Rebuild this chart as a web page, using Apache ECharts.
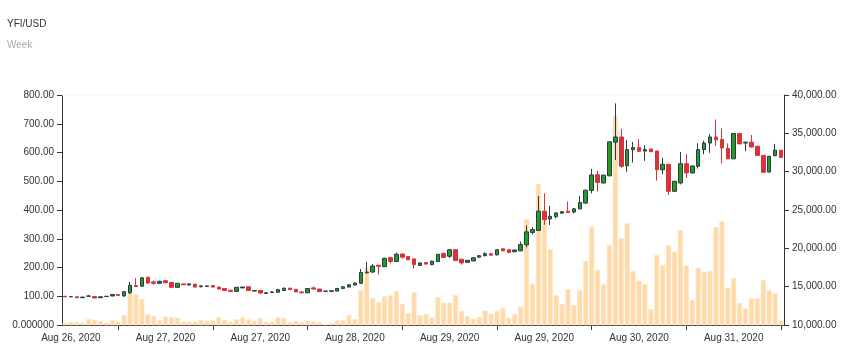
<!DOCTYPE html>
<html>
<head>
<meta charset="utf-8">
<script src="https://cdn.jsdelivr.net/npm/echarts@6/dist/echarts.min.js"></script>
<style>
html,body{margin:0;padding:0;background:#fff;}
#chart{width:850px;height:357px;}
</style>
</head>
<body>
<div id="chart"></div>
<script>
// Hourly candles, first candle Aug 26 2020 09:00 UTC
var startTime = Date.UTC(2020, 7, 26, 9, 0, 0);
var hourMs = 3600 * 1000;

// [open, close, low, high]
var ohlc = [
  [100,98,97,101],[98,99,97,100],[98,95,94,99],[95,97,94,98],[100,101,99,104],
  [99,94,93,100],[95,98,94,99],[99,100,98,101],[101,106,100,107],[106,103,102,107],
  [101,116,98,118],[112,138,108,150],[137,134,133,163],[135,164,134,167],[166,146,143,167],
  [150,145,140,155],[145,152,142,154],[154,147,145,157],[148,131,130,149],[131,145,129,146],
  [143,140,139,144],[139,143,138,144],[142,132,131,143],[133,136,131,138],[134,136,133,137],
  [137,132,131,138],[132,125,124,133],[127,120,118,128],[121,117,116,122],[117,131,116,132],
  [129,132,128,134],[133,120,119,134],[118,120,117,121],[120,111,110,121],[110,112,108,113],
  [113,115,112,117],[114,123,113,126],[120,128,119,130],[128,123,122,129],[124,115,114,125],
  [115,112,111,117],[112,127,111,128],[129,125,124,134],[125,116,115,126],[117,118,116,119],
  [117,119,116,120],[118,127,117,128],[127,133,126,135],[132,140,131,142],[139,146,138,148],
  [145,183,143,195],[182,184,178,220],[184,205,182,212],[208,204,175,209],[203,232,202,234],
  [234,221,215,235],[221,246,220,252],[247,236,231,248],[238,227,226,239],[230,210,196,231],
  [207,216,205,218],[217,212,210,219],[210,222,208,224],[221,246,220,247],[249,235,233,252],
  [239,262,233,263],[262,224,223,263],[229,216,210,230],[218,225,216,226],[223,234,221,236],
  [236,241,234,243],[241,248,239,253],[248,243,242,249],[244,262,242,263],[265,258,257,266],
  [262,252,251,263],[255,261,253,262],[258,280,256,290],[279,324,270,346],[322,332,315,340],
  [329,396,327,449],[396,367,349,458],[369,378,348,414],[377,390,371,392],[389,394,388,396],
  [396,391,390,429],[393,404,388,407],[404,426,402,449],[424,469,422,471],[468,522,458,543],
  [523,496,464,536],[494,521,492,523],[519,637,517,639],[636,654,574,771],[654,552,547,682],
  [554,610,533,643],[610,617,565,637],[617,604,602,646],[605,610,571,625],[612,603,601,614],
  [605,540,502,606],[540,559,524,582],[559,465,452,560],[465,500,463,502],[494,561,489,602],
  [561,529,512,594],[529,553,527,555],[552,610,544,632],[610,633,594,641],[633,654,599,664],
  [654,644,623,715],[645,616,562,684],[614,578,577,632],[578,666,577,667],[666,630,629,667],
  [633,636,605,637],[636,619,618,661],[622,590,589,623],[590,531,530,591],[532,587,531,588],
  [589,608,587,630],[608,583,581,609]
];

var volumes = [
  10261,10391,10391,10300,10783,10690,10522,10300,10652,10430,
  11304,14213,14004,13391,11435,11174,10613,11083,11004,10952,
  10430,10430,10430,10652,10522,10522,11043,10690,10430,10743,
  11004,10743,10522,10913,10391,10391,11004,10913,10391,10522,
  10391,10522,10522,10348,10087,10261,10609,10609,11304,10783,
  14565,17478,13522,13000,13739,13870,14435,12739,11565,14261,
  11304,11435,11004,13613,12909,12909,13913,11826,11174,10822,
  11043,11865,11474,11826,12217,10952,11435,12387,23786,15387,
  28430,23995,19874,13874,12739,14657,12570,14526,18348,22782,
  17213,15309,20434,37300,21309,23265,17043,15778,15348,12048,
  19130,17826,20434,19561,22391,17734,13261,17474,16952,17043,
  22782,23526,14865,16091,12870,12178,13483,13483,15870,14565,
  14174,10522
];

var titleText = 'YFI/USD';
var subtitleText = 'Week';
var priceTicks = { min: 0, max: 800, interval: 100 };
var volumeTicks = { min: 10000, max: 40000, interval: 5000 };

var monthNames = ['Jan','Feb','Mar','Apr','May','Jun','Jul','Aug','Sep','Oct','Nov','Dec'];
var categories = ohlc.map(function (d, i) { return String(startTime + i * hourMs); });

function fmtDate(v) {
  var d = new Date(Number(v));
  return monthNames[d.getUTCMonth()] + ' ' + d.getUTCDate() + ', ' + d.getUTCFullYear();
}
function fmtNum(v) {
  return v.toFixed(2).replace(/\B(?=(\d{3})+(?!\d))/g, ',');
}

var FONT = 'Liberation Sans, Arial, sans-serif';
var chart = echarts.init(document.getElementById('chart'), null, { renderer: 'canvas' });

chart.setOption({
  animation: false,
  backgroundColor: '#ffffff',
  title: {
    text: titleText,
    subtext: subtitleText,
    left: 7, top: 19, padding: 0, itemGap: 11,
    textStyle: { fontSize: 10, fontWeight: 'normal', color: '#333', fontFamily: FONT },
    subtextStyle: { fontSize: 10, color: '#aaa', fontFamily: FONT }
  },
  grid: { left: 62, right: 66, top: 95, bottom: 32, containLabel: false },
  xAxis: [{
    type: 'category',
    data: categories,
    boundaryGap: true,
    axisLine: { show: true, lineStyle: { color: '#333', width: 1 } },
    axisTick: {
      show: true, alignWithLabel: true, length: 5,
      interval: function (i) { return i >= 9 && (i - 9) % 16 === 0; },
      lineStyle: { color: '#333' }
    },
    axisLabel: {
      interval: function (i) { return i >= 1 && (i - 1) % 16 === 0; },
      formatter: fmtDate, color: '#333', fontSize: 10, fontFamily: FONT, margin: 8,
      hideOverlap: false
    },
    splitLine: { show: false }
  }, {
    type: 'category',
    data: categories,
    position: 'top',
    boundaryGap: true,
    axisLine: { show: true, lineStyle: { color: '#fdf6ec', width: 1.5 } },
    axisTick: { show: false },
    axisLabel: { show: false },
    splitLine: { show: false }
  }],
  yAxis: [{
    type: 'value',
    position: 'left',
    min: priceTicks.min, max: priceTicks.max, interval: priceTicks.interval,
    axisLine: { show: true, lineStyle: { color: '#333', width: 1 } },
    axisTick: { show: true, length: 5, lineStyle: { color: '#333' } },
    axisLabel: {
      formatter: function (v) { return v === 0 ? '0.000000' : fmtNum(v); },
      color: '#333', fontSize: 10, fontFamily: FONT, margin: 8
    },
    splitLine: { show: false }
  }, {
    type: 'value',
    position: 'right',
    min: volumeTicks.min, max: volumeTicks.max, interval: volumeTicks.interval,
    axisLine: { show: true, lineStyle: { color: '#333', width: 1 } },
    axisTick: { show: true, length: 5, lineStyle: { color: '#333' } },
    axisLabel: { formatter: fmtNum, color: '#333', fontSize: 10, fontFamily: FONT, margin: 8 },
    splitLine: { show: false }
  }],
  series: [{
    type: 'bar',
    name: 'Volume',
    xAxisIndex: 0,
    yAxisIndex: 1,
    data: volumes,
    barWidth: 5,
    clip: true,
    z: 1,
    itemStyle: { color: '#ffd9a8', borderColor: '#ffe6c8', borderWidth: 0.6 }
  }, {
    type: 'candlestick',
    name: 'YFI/USD',
    xAxisIndex: 0,
    yAxisIndex: 0,
    data: ohlc,
    barWidth: 4,
    z: 3,
    itemStyle: {
      color: '#1f9e1f', color0: '#d63438',
      borderColor: '#2c3a48', borderColor0: '#d63438',
      borderWidth: 1
    }
  }]
});
</script>
</body>
</html>
